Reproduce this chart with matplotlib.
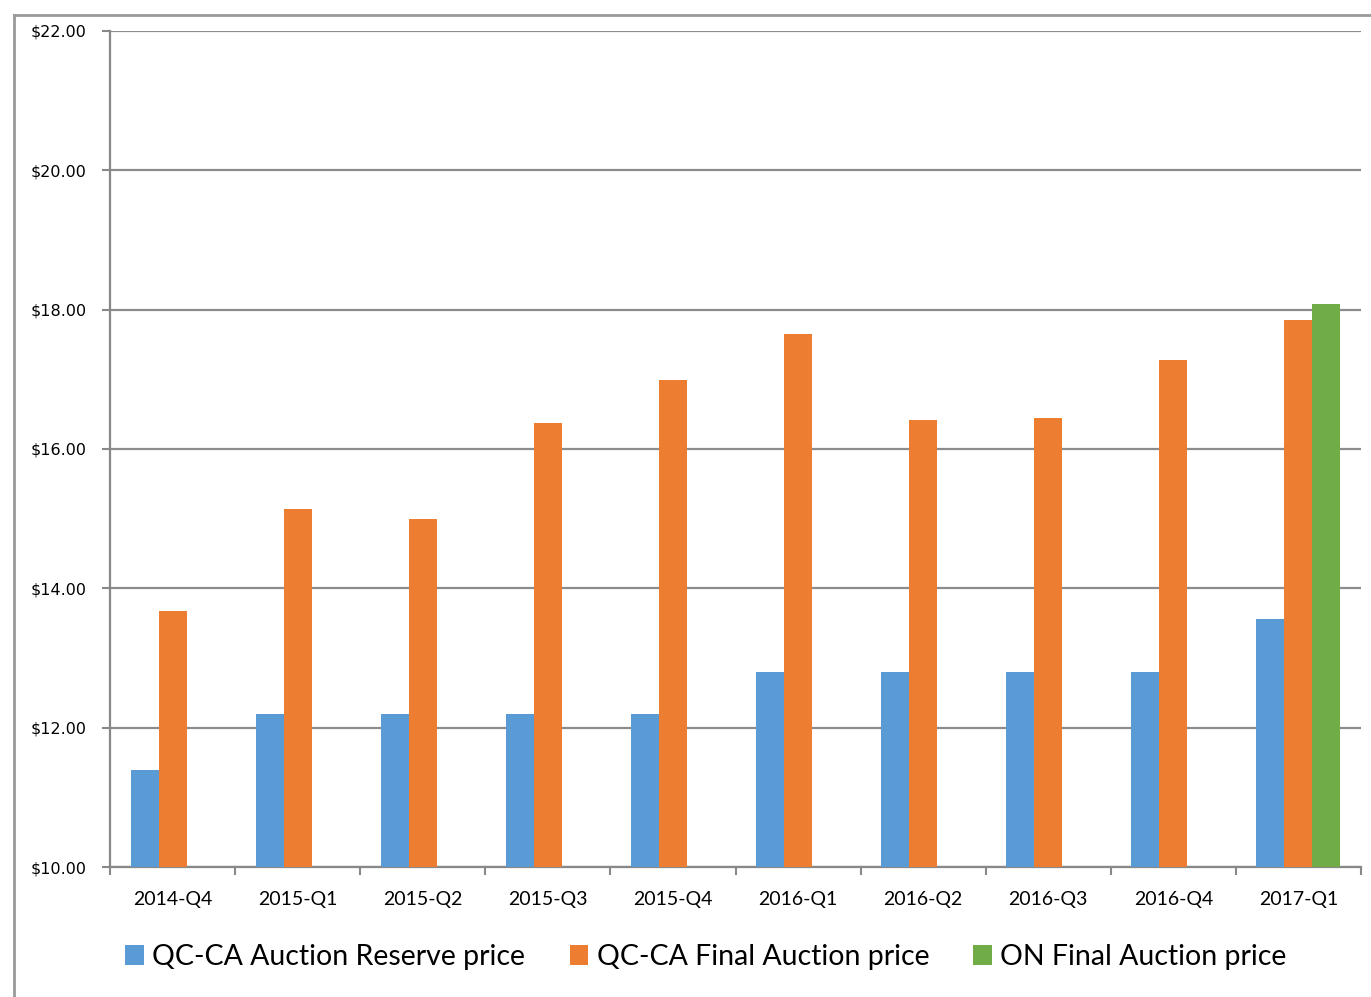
import numpy as np
import matplotlib
matplotlib.use("Agg")
import matplotlib.pyplot as plt
from matplotlib.lines import Line2D
from matplotlib.patches import Patch

categories = ["2014-Q4", "2015-Q1", "2015-Q2", "2015-Q3", "2015-Q4",
              "2016-Q1", "2016-Q2", "2016-Q3", "2016-Q4", "2017-Q1"]
reserve = [11.39, 12.20, 12.20, 12.20, 12.20, 12.80, 12.80, 12.80, 12.80, 13.56]
final_qcca = [13.67, 15.14, 14.99, 16.37, 16.99, 17.65, 16.42, 16.44, 17.28, 17.85]
final_on = [np.nan] * 9 + [18.08]
series_names = ["QC-CA Auction Reserve price", "QC-CA Final Auction price", "ON Final Auction price"]
colors = ["#5B9BD5", "#ED7D31", "#70AD47"]
yticks = [10, 12, 14, 16, 18, 20, 22]

fig = plt.figure(figsize=(13.71, 9.97), dpi=100)
ax = fig.add_axes([110/1371, 130/997, 1251/1371, 836/997])

x = np.arange(len(categories))
w = 0.224
base = 10.0
for off, vals, c in [(-w, reserve, colors[0]), (0, final_qcca, colors[1]), (w, final_on, colors[2])]:
    v = np.array(vals, dtype=float)
    ax.bar(x + off, v - base, bottom=base, width=w, color=c, edgecolor="none", zorder=3)

ax.set_xlim(-0.5, len(categories) - 0.5)
ax.set_ylim(10, 22)
ax.set_yticks(yticks)
ax.set_yticklabels([f"${v:.2f}" for v in yticks], fontsize=11.5, family="DejaVu Sans")
ax.set_xticks(x)
ax.set_xticklabels(categories, fontsize=14, family="Lato")
ax.set_xticks(np.arange(-0.5, len(categories), 1), minor=True)
ax.tick_params(axis="x", which="major", length=0, pad=17)
ax.tick_params(axis="x", which="minor", length=6, width=1.5, color="#888888")
ax.tick_params(axis="y", length=6, width=1.5, color="#888888", pad=11)
ax.grid(axis="y", color="#8c8c8c", linewidth=1.6, zorder=0)
ax.set_axisbelow(True)
for s in ["top", "right"]:
    ax.spines[s].set_visible(False)
for s in ["left", "bottom"]:
    ax.spines[s].set_color("#888888")
    ax.spines[s].set_linewidth(1.6)

handles = [Patch(facecolor=c, edgecolor="none") for c in colors]
fig.legend(handles, series_names, loc="center", bbox_to_anchor=(0.515, 1 - 957/997),
           ncol=3, frameon=False, prop={"family": "Lato", "size": 20.5},
           handlelength=0.65, handleheight=0.65, handletextpad=0.3, columnspacing=1.55)

# outer chart frame (partially visible)
fig.add_artist(Line2D([14/1371, 14/1371], [0, 1 - 15/997], color="#999999", linewidth=2))
fig.add_artist(Line2D([14/1371, 1], [1 - 15/997, 1 - 15/997], color="#999999", linewidth=2))

fig.savefig("out.png", dpi=100)
